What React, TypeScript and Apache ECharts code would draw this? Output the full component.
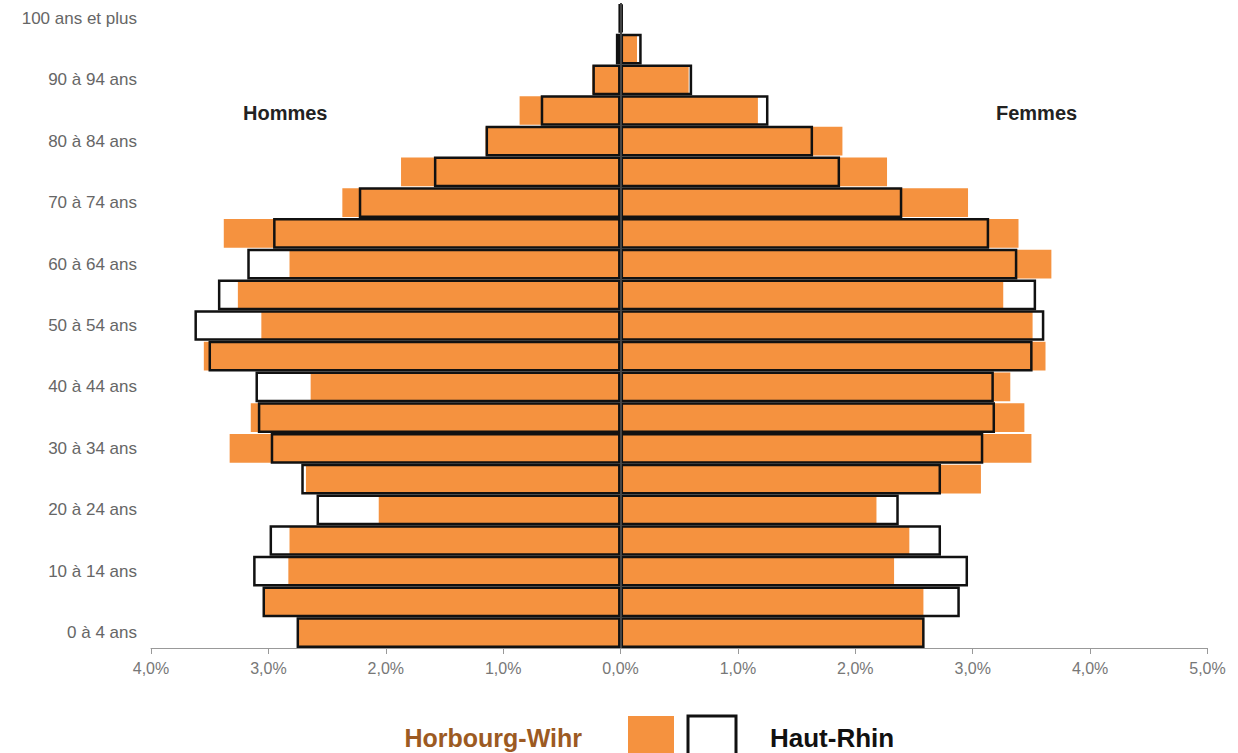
import React, { useEffect, useRef } from "react";
import * as echarts from "echarts";

const categories = [
  "0 à 4 ans", "5 à 9 ans", "10 à 14 ans", "15 à 19 ans", "20 à 24 ans",
  "25 à 29 ans", "30 à 34 ans", "35 à 39 ans", "40 à 44 ans", "45 à 49 ans",
  "50 à 54 ans", "55 à 59 ans", "60 à 64 ans", "65 à 69 ans", "70 à 74 ans",
  "75 à 79 ans", "80 à 84 ans", "85 à 89 ans", "90 à 94 ans", "95 à 99 ans",
  "100 ans et plus",
];

// Horbourg-Wihr (orange), % of population
const hommesHW = [2.75, 3.04, 2.83, 2.82, 2.06, 2.68, 3.33, 3.15, 2.64, 3.55, 3.06, 3.26, 2.82, 3.38, 2.37, 1.87, 1.15, 0.86, 0.24, 0, 0];
const femmesHW = [2.58, 2.58, 2.33, 2.46, 2.18, 3.07, 3.5, 3.44, 3.32, 3.62, 3.51, 3.26, 3.67, 3.39, 2.96, 2.27, 1.89, 1.17, 0.58, 0.14, 0];
// Haut-Rhin (outline), % of population
const hommesHR = [2.76, 3.05, 3.13, 2.99, 2.59, 2.72, 2.98, 3.09, 3.11, 3.51, 3.63, 3.43, 3.18, 2.96, 2.23, 1.59, 1.15, 0.68, 0.24, 0.04, 0.015];
const femmesHR = [2.59, 2.89, 2.96, 2.73, 2.37, 2.73, 3.09, 3.19, 3.18, 3.51, 3.61, 3.54, 3.38, 3.14, 2.4, 1.87, 1.64, 1.26, 0.61, 0.18, 0.02];

const ORANGE = "#f5923f";
const FONT = "'Liberation Sans', Arial, sans-serif";

export default function App() {
  const ref = useRef<HTMLDivElement>(null);

  useEffect(() => {
    if (!ref.current) return;
    const chart = echarts.init(ref.current, null, { renderer: "svg" });
    const fmt = (v: number) => Math.abs(v).toFixed(1).replace(".", ",") + "%";
    const plotH = 645;
    const band = plotH / categories.length;
    const outline = { color: "rgba(0,0,0,0)", borderColor: "#111", borderWidth: 2.5 };
    chart.setOption({
      animation: false,
      grid: { left: 151, right: 30.5, top: 3, height: plotH, containLabel: false },
      xAxis: {
        type: "value",
        min: -4,
        max: 5,
        interval: 1,
        splitLine: { show: false },
        axisLine: { show: true, lineStyle: { color: "#999", width: 1 } },
        axisTick: { show: true, length: 6, lineStyle: { color: "#999" } },
        axisLabel: { formatter: fmt, color: "#777", fontSize: 16, fontFamily: FONT, margin: 12 },
      },
      yAxis: [
        {
          type: "category",
          data: categories,
          axisLine: { show: false, onZero: false },
          axisTick: { show: false },
          axisLabel: { interval: 1, color: "#666", fontSize: 17, fontFamily: FONT, margin: 14 },
        },
        {
          type: "category",
          data: categories,
          position: "left",
          show: false,
          axisLine: { show: false, onZero: false },
        },
      ],
      series: [
        {
          name: "Hommes Horbourg-Wihr",
          type: "bar",
          yAxisIndex: 0,
          stack: "hw",
          data: hommesHW.map((v) => -v),
          itemStyle: { color: ORANGE },
          barWidth: band - 2,
        },
        {
          name: "Femmes Horbourg-Wihr",
          type: "bar",
          yAxisIndex: 0,
          stack: "hw",
          data: femmesHW,
          itemStyle: { color: ORANGE },
          barWidth: band - 2,
        },
        {
          name: "Hommes Haut-Rhin",
          type: "bar",
          yAxisIndex: 1,
          stack: "hr",
          data: hommesHR.map((v) => -v),
          itemStyle: outline,
          barWidth: band,
        },
        {
          name: "Femmes Haut-Rhin",
          type: "bar",
          yAxisIndex: 1,
          stack: "hr",
          data: femmesHR,
          itemStyle: outline,
          barWidth: band,
          markLine: {
            silent: true,
            symbol: "none",
            label: { show: false },
            lineStyle: { color: "#444", width: 2, type: "solid" },
            data: [{ xAxis: 0 }],
          },
        },
      ],
      graphic: [
        {
          type: "text",
          left: 243,
          top: 103,
          style: { text: "Hommes", fontSize: 20, fontWeight: "bold", fill: "#222", fontFamily: FONT },
        },
        {
          type: "text",
          left: 996,
          top: 103,
          style: { text: "Femmes", fontSize: 20, fontWeight: "bold", fill: "#222", fontFamily: FONT },
        },
        {
          type: "text",
          x: 582,
          y: 738,
          style: {
            text: "Horbourg-Wihr",
            fontSize: 25,
            fontWeight: "bold",
            fill: "#9c5a22",
            fontFamily: FONT,
            textAlign: "right",
            textVerticalAlign: "middle",
          },
        },
        {
          type: "rect",
          shape: { x: 628, y: 716, width: 46, height: 50 },
          style: { fill: ORANGE },
        },
        {
          type: "rect",
          shape: { x: 688, y: 716, width: 48, height: 50 },
          style: { fill: "#fff", stroke: "#111", lineWidth: 3 },
        },
        {
          type: "text",
          x: 770,
          y: 738,
          style: {
            text: "Haut-Rhin",
            fontSize: 26,
            fontWeight: "bold",
            fill: "#111",
            fontFamily: FONT,
            textAlign: "left",
            textVerticalAlign: "middle",
          },
        },
      ],
    });
    return () => chart.dispose();
  }, []);

  return (
    <div
      ref={ref}
      style={{ position: "fixed", left: 0, top: 0, width: 1238, height: 753, background: "#fff" }}
    />
  );
}
